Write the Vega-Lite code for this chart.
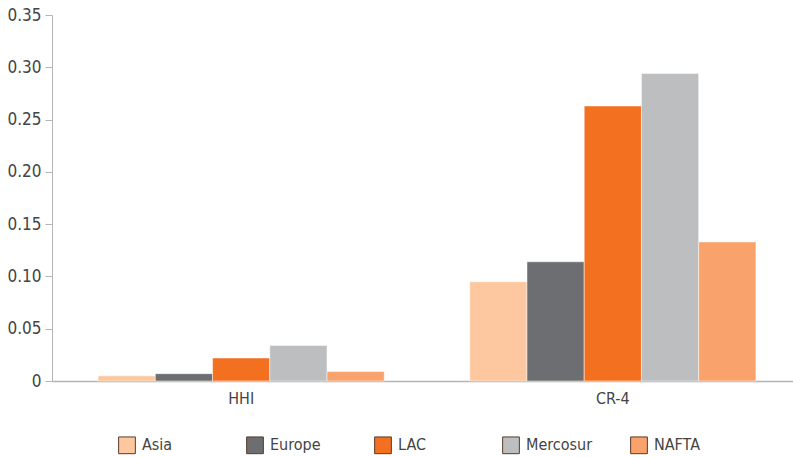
{
  "$schema": "https://vega.github.io/schema/vega-lite/v6.json",
  "width": 750,
  "height": 366,
  "autosize": "none",
  "padding": {"left": 52, "top": 15, "right": 1, "bottom": 76},
  "background": "white",
  "config": {
    "view": {"stroke": null},
    "font": "DejaVu Sans Condensed, Roboto Condensed, Roboto, sans-serif"
  },
  "data": {
    "values": [
      {"measure": "HHI", "region": "Asia", "value": 0.005},
      {"measure": "HHI", "region": "Europe", "value": 0.007},
      {"measure": "HHI", "region": "LAC", "value": 0.022},
      {"measure": "HHI", "region": "Mercosur", "value": 0.034},
      {"measure": "HHI", "region": "NAFTA", "value": 0.009},
      {"measure": "CR-4", "region": "Asia", "value": 0.095},
      {"measure": "CR-4", "region": "Europe", "value": 0.114},
      {"measure": "CR-4", "region": "LAC", "value": 0.263},
      {"measure": "CR-4", "region": "Mercosur", "value": 0.294},
      {"measure": "CR-4", "region": "NAFTA", "value": 0.133}
    ]
  },
  "mark": {"type": "bar", "stroke": "white", "strokeWidth": 0.5},
  "encoding": {
    "x": {
      "field": "measure",
      "type": "nominal",
      "sort": ["HHI", "CR-4"],
      "scale": {"paddingInner": 0.23, "paddingOuter": 0.124},
      "axis": {
        "title": null,
        "labelAngle": 0,
        "ticks": false,
        "domainColor": "#b5b5b5",
        "domainWidth": 1.5,
        "labelFontSize": 16,
        "labelColor": "#444444",
        "labelPadding": 9
      }
    },
    "xOffset": {
      "field": "region",
      "type": "nominal",
      "sort": ["Asia", "Europe", "LAC", "Mercosur", "NAFTA"],
      "scale": {"paddingInner": 0, "paddingOuter": 0}
    },
    "y": {
      "field": "value",
      "type": "quantitative",
      "scale": {"domain": [0, 0.35], "nice": false},
      "axis": {
        "title": null,
        "grid": false,
        "values": [0, 0.05, 0.1, 0.15, 0.2, 0.25, 0.3, 0.35],
        "labelExpr": "datum.value == 0 ? '0' : format(datum.value, '.2f')",
        "domainColor": "#b5b5b5",
        "tickColor": "#b5b5b5",
        "tickSize": 7,
        "labelFontSize": 17,
        "labelColor": "#444444",
        "labelPadding": 4
      }
    },
    "color": {
      "field": "region",
      "type": "nominal",
      "sort": ["Asia", "Europe", "LAC", "Mercosur", "NAFTA"],
      "scale": {
        "domain": ["Asia", "Europe", "LAC", "Mercosur", "NAFTA"],
        "range": ["#FDC8A0", "#6D6E71", "#F37021", "#BCBEC0", "#F9A26C"]
      },
      "legend": {
        "title": null,
        "orient": "none",
        "legendX": 66,
        "legendY": 421,
        "direction": "horizontal",
        "columns": 5,
        "gridAlign": "all",
        "columnPadding": 35,
        "symbolType": "square",
        "symbolSize": 280,
        "symbolStrokeColor": "#5a3a2a",
        "symbolStrokeWidth": 1,
        "labelFontSize": 16,
        "labelColor": "#444444",
        "labelOffset": 6
      }
    }
  }
}
